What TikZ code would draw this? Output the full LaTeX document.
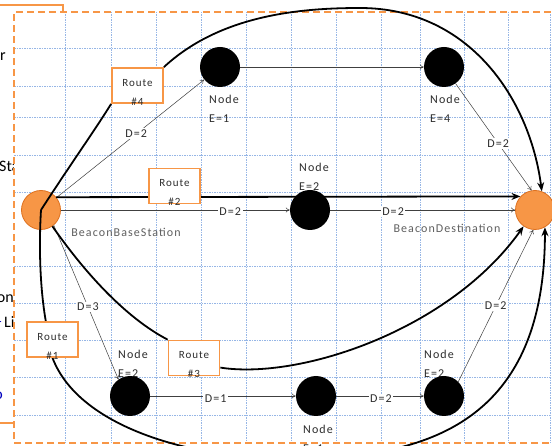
\documentclass[tikz,border=0pt]{standalone}
\usepackage{fontspec}
\setmainfont{Carlito}
\newfontfamily\spacedfont[LetterSpace=9]{Carlito}
\usetikzlibrary{arrows.meta}
\definecolor{beaconorange}{RGB}{247,150,70}
\definecolor{beacondark}{RGB}{222,112,30}
\definecolor{gridblue}{RGB}{150,182,230}
\definecolor{textgray}{RGB}{45,45,45}
\definecolor{sidegray}{RGB}{95,95,95}

\begin{document}
\begin{tikzpicture}[x=1pt,y=-1pt,
  beacon/.style={circle,fill=beaconorange,draw=beacondark,line width=0.8pt,minimum size=39pt,inner sep=0pt},
  sensor/.style={circle,fill=black,minimum size=40pt,inner sep=0pt},
  nodetxt/.style={anchor=north west,text=textgray,align=left,inner sep=0pt,font=\spacedfont\fontsize{12}{19}\selectfont},
  beacontxt/.style={text=sidegray,inner sep=0pt,font=\spacedfont\fontsize{12}{14}\selectfont},
  hop/.style={draw=black!75,line width=0.5pt,-{To[length=4pt,width=5pt]}},
  dist/.style={fill=white,text=textgray,inner sep=1.5pt,font=\spacedfont\fontsize{12}{14}\selectfont},
  route/.style={draw=black,line width=1.8pt},
  routehead/.style={route,-{Stealth[length=9pt,width=7pt]}},
  routebox/.style={draw=beaconorange,line width=1.8pt,fill=white,minimum width=51pt,minimum height=35pt,inner sep=0pt},
  routetxt/.style={anchor=north,text=textgray,align=center,inner sep=0pt,font=\spacedfont\fontsize{11}{19}\selectfont},
  sidetxt/.style={inner sep=0pt,font=\fontsize{16}{18}\selectfont},
  gridline/.style={draw=gridblue,line width=0.8pt,dash pattern=on 1.5pt off 1pt}]
\useasboundingbox (0,0) rectangle (552,446);

\draw[beaconorange,line width=2pt] (-10,5) rectangle (63,423);
\node[sidetxt,anchor=base east] (sider) at (6,61) {r};
\node[sidetxt,anchor=base west] (sidesta) at (-1,172) {Sta};
\node[sidetxt,anchor=base east] (sideon) at (14,303) {on};
\node[sidetxt,anchor=base east,text=blue!75!black] (sidedash) at (2.5,327) {--};
\node[sidetxt,anchor=base west] (sideli) at (4,328) {Li};
\node[sidetxt,anchor=base east,text=blue!75!black] (sideo) at (3,400) {o};

\fill[white] (14,12) rectangle (560,443);
\foreach \x in {65,111,156,201,246,291,336,381,420,464,508,550}
  \draw[gridline] (\x,12) -- (\x,443);
\foreach \y in {48,86,117,155,192,266,303,340,377,415}
  \draw[gridline] (14,\y) -- (552,\y);
\draw[beaconorange,line width=2.6pt,dash pattern=on 7pt off 4pt] (560,443) -- (14,443) -- (14,12) -- (560,12);

\node[nodetxt] (t1) at (209,95) {Node\\E=1};
\node[nodetxt] (t4) at (430,95) {Node\\E=4};
\node[nodetxt] (t2) at (299,163) {Node\\E=2};
\node[nodetxt] (tb1) at (118,350) {Node\\E=2};
\node[nodetxt] (tb2) at (303,425) {Node\\E=1};
\node[nodetxt] (tb3) at (424,350) {Node\\E=2};
\node[beacontxt] (basetxt) at (126,232) {BeaconBaseStation};
\node[beacontxt] (desttxt) at (447,228) {BeaconDestination};

\node[beacon] (base) at (41,210) {};
\node[beacon] (dest) at (535,210) {};
\node[sensor] (n1) at (220,67) {};
\node[sensor] (n4) at (444,67) {};
\node[sensor] (n2) at (310,210) {};
\node[sensor] (nb1) at (130,396) {};
\node[sensor] (nb2) at (316,396) {};
\node[sensor] (nb3) at (444,396) {};

\draw[hop] (base) -- node[dist,pos=0.54] {D=2} (n1);
\draw[hop] (n1) -- (n4);
\draw[hop] (n4.-55) -- node[dist,pos=0.56] {D=2} (dest.100);
\draw[hop] (base) -- node[dist,pos=0.74,yshift=-2pt] {D=2} (n2);
\draw[hop] (n2) -- node[dist,pos=0.34,yshift=-2pt] {D=2} (dest);
\draw[hop] (base.-50) -- node[dist,pos=0.53] {D=3} (nb1.125);
\draw[hop] (nb1) -- node[dist,pos=0.45,yshift=-3pt] {D=1} (nb2);
\draw[hop] (nb2) -- node[dist,pos=0.51,yshift=-3pt] {D=2} (nb3);
\draw[hop] (nb3.45) -- node[dist,pos=0.5] {D=2} (dest.-95);

\node[routebox] (r4) at (137.5,85.5) {};
\node[routebox] (r2) at (174.5,186) {};
\node[routebox] (r1) at (52.5,339.5) {};
\node[routebox] (r3) at (194,358) {};

\draw[route] (base.center) .. controls (70,165) and (95,130) .. (r4.south west);
\draw[routehead] (r4.north east) .. controls (220,15) and (300,8) .. (360,8)
  .. controls (470,8) and (530,100) .. (dest.70);
\draw[routehead] (base.40) -- (dest.137);
\draw[route] (base.center) .. controls (38,260) and (42,300) .. (r1.110);
\draw[routehead] (r1.south) .. controls (80,430) and (200,460) .. (290,458)
  .. controls (430,460) and (545,420) .. (dest.-60);
\draw[route] (base.-55) .. controls (90,280) and (130,320) .. (r3.north west);
\draw[routehead] (r3.-20) .. controls (300,380) and (450,330) .. (dest.-125);

\node[routebox] (r4b) at (r4) {};
\node[routebox] (r2b) at (r2) {};
\node[routebox] (r1b) at (r1) {};
\node[routebox] (r3b) at (r3) {};
\node[routetxt] (rt4) at (137.5,79) {Route\\\#4};
\node[routetxt] (rt2) at (174.5,179) {Route\\\#2};
\node[routetxt] (rt1) at (52.5,333) {Route\\\#1};
\node[routetxt] (rt3) at (194,351) {Route\\\#3};
\end{tikzpicture}
\end{document}
